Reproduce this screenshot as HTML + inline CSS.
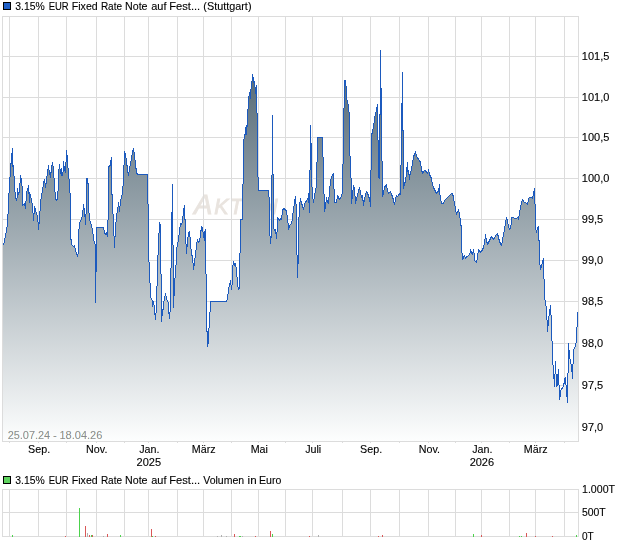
<!DOCTYPE html><html><head><meta charset="utf-8"><title>Chart</title>
<style>html,body{margin:0;padding:0;background:#fff;}svg{display:block;will-change:transform;}text{font-family:"Liberation Sans",sans-serif;font-size:11px;fill:#000;}text.t{filter:grayscale(1);stroke:#000;stroke-width:0.12px;}</style></head><body>
<svg width="620" height="546" viewBox="0 0 620 546">
<defs><linearGradient id="g" gradientUnits="userSpaceOnUse" x1="0" y1="16" x2="0" y2="441"><stop offset="0" stop-color="#3e5563"/><stop offset="1" stop-color="#fdfefe"/></linearGradient>
<clipPath id="cp"><rect x="3" y="17" width="575" height="424"/></clipPath></defs>
<rect width="620" height="546" fill="#fff"/>
<text x="194" y="213.5" style="font-size:27.5px;font-style:italic;fill:#e9e4df;stroke:#e9e4df;stroke-width:0.9px">A<tspan style="font-size:21.3px" dx="2.0">K</tspan><tspan style="font-size:21.3px" dx="1.2">T</tspan><tspan style="font-size:21.3px" dx="-0.2">I</tspan><tspan style="font-size:21.3px" dx="-0.2">E</tspan><tspan style="font-size:21.3px" dx="-0.2">N</tspan></text>
<path d="M9.5 17V443 M38.5 17V443 M66.5 17V443 M96.5 17V443 M124.5 17V443 M148.5 17V443 M177.5 17V443 M203.5 17V443 M231.5 17V443 M258.5 17V443 M285.5 17V443 M312.5 17V443 M342.5 17V443 M370.5 17V443 M399.5 17V443 M428.5 17V443 M455.5 17V443 M481.5 17V443 M509.5 17V443 M535.5 17V443 M564.5 17V443 M3 56.5H578 M3 97.5H578 M3 137.5H578 M3 178.5H578 M3 219.5H578 M3 260.5H578 M3 301.5H578 M3 343.5H578 M3 385.5H578 M3 427.5H578" stroke="#dcdcdc" stroke-width="1" fill="none" shape-rendering="crispEdges"/>
<g clip-path="url(#cp)" shape-rendering="crispEdges"><path d="M3 441 L3 244.52 L3.52 244.52 L4.52 240.52 L7.52 224.52 L8.52 202.52 L9.52 182.52 L10.52 170.52 L11.52 156.52 L12.52 148.52 L12.52 166.52 L13.52 165.52 L14.52 186.52 L14.52 187.52 L15.52 196.52 L16.52 200.52 L17.52 194.52 L17.52 188.52 L18.52 194.52 L19.52 190.52 L20.52 175.52 L21.52 184.52 L21.52 178.52 L22.52 194.52 L22.52 205.52 L23.52 204.52 L24.52 203.52 L25.52 208.52 L26.52 192.52 L27.52 189.52 L28.52 185.52 L29.52 202.52 L29.52 192.52 L30.52 196.52 L31.52 199.52 L32.52 206.52 L33.52 220.52 L34.52 206.52 L35.52 209.52 L36.52 214.52 L37.52 215.52 L38.52 229.52 L39.52 218.52 L40.52 202.52 L41.52 194.52 L42.52 191.52 L43.52 182.52 L44.52 179.52 L45.52 187.52 L46.52 179.52 L47.52 171.52 L48.52 165.52 L49.52 174.52 L50.52 172.52 L50.52 177.52 L51.52 167.52 L52.52 162.52 L53.52 170.52 L54.52 185.52 L55.52 198.52 L56.52 200.52 L57.52 198.52 L58.52 183.52 L58.52 173.52 L59.52 164.52 L60.52 173.52 L61.52 168.52 L61.52 175.52 L62.52 175.52 L63.52 168.52 L63.52 161.52 L64.52 170.52 L65.52 164.52 L65.52 172.52 L66.52 150.52 L67.52 160.52 L68.52 175.52 L68.52 175.52 L69.52 181.52 L70.52 204.52 L70.52 234.52 L71.52 244.52 L73.52 246.52 L74.52 245.52 L75.52 250.52 L77.52 256.52 L78.52 251.52 L78.52 234.52 L79.52 223.52 L81.52 218.52 L82.52 215.52 L83.52 204.52 L84.52 210.52 L84.52 209.52 L85.52 224.52 L86.52 202.52 L86.52 178.52 L87.52 178.52 L88.52 188.52 L88.52 206.52 L89.52 219.52 L90.52 222.52 L92.52 229.52 L93.52 238.52 L94.52 243.52 L95.52 244.52 L95.52 302.52 L95.52 272.52 L96.52 271.52 L96.52 227.52 L103.52 227.52 L104.52 232.52 L105.52 234.52 L106.52 232.52 L107.52 236.52 L108.52 202.52 L108.52 166.52 L110.52 165.52 L110.52 161.52 L111.52 157.52 L111.52 193.52 L112.52 195.52 L113.52 233.52 L114.52 238.52 L114.52 247.52 L115.52 226.52 L116.52 217.52 L117.52 208.52 L118.52 204.52 L118.52 202.52 L119.52 211.52 L120.52 200.52 L121.52 196.52 L122.52 193.52 L122.52 186.52 L123.52 185.52 L123.52 165.52 L124.52 164.52 L124.52 151.52 L125.52 154.52 L126.52 160.52 L127.52 170.52 L128.52 175.52 L129.52 168.52 L130.52 163.52 L131.52 157.52 L132.52 151.52 L133.52 148.52 L134.52 155.52 L135.52 164.52 L136.52 172.52 L137.52 174.52 L147.52 174.52 L147.52 203.52 L148.52 204.52 L148.52 261.52 L149.52 262.52 L149.52 282.52 L150.52 283.52 L150.52 297.52 L151.52 298.52 L152.52 301.52 L152.52 306.52 L153.52 301.52 L154.52 309.52 L155.52 319.52 L155.52 313.52 L156.52 312.52 L156.52 286.52 L157.52 285.52 L157.52 255.52 L158.52 254.52 L158.52 233.52 L159.52 232.52 L159.52 222.52 L160.52 226.52 L160.52 273.52 L161.52 274.52 L161.52 321.52 L162.52 309.52 L162.52 315.52 L163.52 303.52 L165.52 293.52 L166.52 298.52 L168.52 303.52 L168.52 309.52 L169.52 318.52 L170.52 305.52 L170.52 268.52 L171.52 267.52 L171.52 212.52 L172.52 211.52 L172.52 184.52 L172.52 244.52 L173.52 245.52 L173.52 307.52 L173.52 296.52 L174.52 295.52 L174.52 278.52 L175.52 277.52 L175.52 265.52 L176.52 264.52 L176.52 249.52 L177.52 244.52 L178.52 238.52 L178.52 239.52 L179.52 230.52 L180.52 223.52 L181.52 224.52 L182.52 220.52 L183.52 210.52 L184.52 205.52 L184.52 218.52 L185.52 220.52 L185.52 235.52 L186.52 253.52 L187.52 240.52 L188.52 233.52 L189.52 231.52 L190.52 243.52 L191.52 254.52 L192.52 256.52 L193.52 269.52 L194.52 261.52 L195.52 254.52 L196.52 244.52 L197.52 239.52 L198.52 242.52 L199.52 241.52 L200.52 234.52 L201.52 226.52 L202.52 228.52 L203.52 234.52 L204.52 240.52 L204.52 232.52 L205.52 229.52 L205.52 273.52 L206.52 274.52 L206.52 331.52 L207.52 331.52 L207.52 346.52 L208.52 340.52 L208.52 328.52 L209.52 327.52 L209.52 312.52 L210.52 311.52 L210.52 301.52 L226.52 301.52 L227.52 297.52 L228.52 289.52 L229.52 284.52 L230.52 280.52 L231.52 289.52 L232.52 279.52 L232.52 268.52 L233.52 261.52 L234.52 265.52 L235.52 263.52 L236.52 271.52 L237.52 283.52 L238.52 289.52 L239.52 287.52 L239.52 253.52 L240.52 252.52 L240.52 219.52 L242.52 219.52 L242.52 184.52 L243.52 183.52 L243.52 143.52 L244.52 134.52 L245.52 134.52 L245.52 128.52 L246.52 125.52 L246.52 134.52 L247.52 118.52 L248.52 98.52 L249.52 92.52 L250.52 98.52 L250.52 90.52 L251.52 87.52 L252.52 74.52 L253.52 82.52 L253.52 77.52 L254.52 83.52 L255.52 90.52 L255.52 93.52 L256.52 85.52 L256.52 112.52 L257.52 113.52 L257.52 164.52 L258.52 190.52 L268.52 190.52 L269.52 203.52 L269.52 229.52 L270.52 243.52 L271.52 231.52 L271.52 231.52 L271.52 175.52 L272.52 174.52 L272.52 115.52 L272.52 173.52 L273.52 174.52 L273.52 227.52 L274.52 230.52 L275.52 229.52 L276.52 238.52 L277.52 225.52 L277.52 217.52 L278.52 218.52 L279.52 220.52 L280.52 218.52 L281.52 219.52 L282.52 210.52 L283.52 208.52 L285.52 209.52 L286.52 211.52 L287.52 217.52 L288.52 229.52 L289.52 225.52 L291.52 223.52 L292.52 217.52 L293.52 208.52 L294.52 203.52 L294.52 200.52 L295.52 196.52 L296.52 211.52 L296.52 227.52 L296.52 249.52 L297.52 261.52 L297.52 277.52 L298.52 249.52 L298.52 227.52 L299.52 205.52 L300.52 198.52 L301.52 203.52 L302.52 205.52 L303.52 209.52 L304.52 203.52 L305.52 202.52 L306.52 200.52 L307.52 199.52 L308.52 195.52 L308.52 193.52 L309.52 212.52 L309.52 170.52 L310.52 169.52 L310.52 125.52 L310.52 143.52 L311.52 143.52 L311.52 179.52 L312.52 195.52 L313.52 202.52 L314.52 195.52 L315.52 189.52 L316.52 186.52 L316.52 165.52 L316.52 162.52 L317.52 161.52 L317.52 137.52 L322.52 137.52 L322.52 156.52 L323.52 157.52 L323.52 193.52 L324.52 194.52 L324.52 211.52 L325.52 205.52 L326.52 197.52 L327.52 202.52 L328.52 203.52 L329.52 190.52 L330.52 180.52 L331.52 176.52 L333.52 173.52 L333.52 188.52 L334.52 189.52 L334.52 202.52 L336.52 202.52 L337.52 195.52 L338.52 197.52 L339.52 199.52 L340.52 198.52 L341.52 194.52 L342.52 193.52 L342.52 164.52 L343.52 163.52 L343.52 108.52 L344.52 107.52 L344.52 80.52 L345.52 80.52 L346.52 91.52 L346.52 96.52 L347.52 102.52 L348.52 105.52 L348.52 111.52 L349.52 112.52 L349.52 155.52 L350.52 156.52 L351.52 199.52 L351.52 203.52 L352.52 193.52 L353.52 185.52 L354.52 188.52 L355.52 203.52 L356.52 198.52 L357.52 195.52 L358.52 190.52 L359.52 187.52 L360.52 192.52 L361.52 197.52 L362.52 195.52 L363.52 205.52 L364.52 198.52 L365.52 194.52 L366.52 191.52 L367.52 193.52 L368.52 195.52 L369.52 199.52 L370.52 203.52 L370.52 206.52 L370.52 170.52 L371.52 169.52 L371.52 134.52 L372.52 132.52 L373.52 124.52 L374.52 120.52 L374.52 117.52 L375.52 114.52 L376.52 108.52 L377.52 104.52 L377.52 139.52 L378.52 140.52 L378.52 176.52 L379.52 178.52 L379.52 114.52 L380.52 114.52 L380.52 50.52 L380.52 87.52 L381.52 88.52 L381.52 160.52 L382.52 161.52 L382.52 196.52 L383.52 192.52 L384.52 187.52 L385.52 185.52 L386.52 184.52 L387.52 190.52 L388.52 193.52 L389.52 192.52 L390.52 191.52 L391.52 194.52 L392.52 196.52 L393.52 200.52 L394.52 204.52 L395.52 198.52 L396.52 195.52 L397.52 196.52 L398.52 195.52 L399.52 193.52 L400.52 194.52 L400.52 165.52 L401.52 164.52 L401.52 103.52 L402.52 102.52 L402.52 72.52 L402.52 130.52 L403.52 130.52 L403.52 188.52 L404.52 183.52 L405.52 181.52 L406.52 171.52 L407.52 162.52 L407.52 171.52 L408.52 170.52 L409.52 179.52 L409.52 175.52 L410.52 173.52 L411.52 168.52 L412.52 162.52 L413.52 156.52 L414.52 154.52 L415.52 151.52 L416.52 156.52 L417.52 157.52 L418.52 159.52 L419.52 160.52 L420.52 162.52 L421.52 169.52 L422.52 173.52 L423.52 171.52 L424.52 170.52 L425.52 170.52 L426.52 172.52 L427.52 173.52 L428.52 169.52 L429.52 174.52 L430.52 176.52 L431.52 178.52 L432.52 184.52 L433.52 187.52 L434.52 189.52 L435.52 191.52 L436.52 193.52 L437.52 192.52 L438.52 190.52 L439.52 184.52 L439.52 192.52 L440.52 197.52 L441.52 203.52 L442.52 203.52 L443.52 203.52 L444.52 200.52 L445.52 199.52 L446.52 198.52 L447.52 197.52 L448.52 196.52 L449.52 195.52 L450.52 194.52 L451.52 193.52 L452.52 193.52 L453.52 197.52 L454.52 203.52 L455.52 208.52 L456.52 214.52 L457.52 211.52 L458.52 210.52 L458.52 209.52 L459.52 214.52 L460.52 220.52 L461.52 230.52 L461.52 246.52 L462.52 259.52 L463.52 257.52 L464.52 255.52 L465.52 258.52 L466.52 256.52 L467.52 256.52 L468.52 255.52 L469.52 254.52 L470.52 251.52 L470.52 249.52 L471.52 252.52 L472.52 254.52 L473.52 249.52 L474.52 255.52 L474.52 260.52 L475.52 261.52 L476.52 262.52 L477.52 256.52 L478.52 249.52 L479.52 250.52 L480.52 252.52 L481.52 251.52 L482.52 249.52 L483.52 247.52 L484.52 242.52 L485.52 234.52 L486.52 240.52 L487.52 244.52 L488.52 242.52 L489.52 240.52 L490.52 238.52 L491.52 236.52 L492.52 237.52 L493.52 239.52 L494.52 238.52 L495.52 235.52 L496.52 234.52 L497.52 233.52 L498.52 237.52 L499.52 241.52 L500.52 243.52 L501.52 245.52 L502.52 239.52 L503.52 234.52 L504.52 228.52 L505.52 222.52 L506.52 217.52 L507.52 220.52 L508.52 226.52 L509.52 229.52 L510.52 228.52 L511.52 220.52 L511.52 217.52 L513.52 217.52 L514.52 218.52 L516.52 218.52 L517.52 217.52 L518.52 216.52 L518.52 219.52 L519.52 212.52 L520.52 207.52 L521.52 202.52 L522.52 199.52 L523.52 201.52 L524.52 202.52 L525.52 202.52 L526.52 203.52 L527.52 204.52 L528.52 198.52 L529.52 197.52 L531.52 197.52 L532.52 198.52 L533.52 193.52 L534.52 188.52 L534.52 203.52 L535.52 204.52 L535.52 226.52 L536.52 232.52 L537.52 227.52 L538.52 226.52 L538.52 238.52 L539.52 242.52 L539.52 260.52 L540.52 269.52 L541.52 266.52 L542.52 261.52 L543.52 258.52 L543.52 278.52 L544.52 279.52 L544.52 299.52 L545.52 300.52 L545.52 305.52 L546.52 306.52 L546.52 319.52 L547.52 320.52 L547.52 331.52 L547.52 326.52 L548.52 325.52 L548.52 316.52 L549.52 315.52 L549.52 309.52 L550.52 308.52 L550.52 305.52 L550.52 314.52 L551.52 315.52 L551.52 340.52 L552.52 341.52 L552.52 364.52 L553.52 365.52 L553.52 378.52 L554.52 379.52 L554.52 386.52 L554.52 374.52 L555.52 373.52 L555.52 361.52 L555.52 373.52 L556.52 374.52 L556.52 386.52 L557.52 384.52 L557.52 374.52 L558.52 373.52 L558.52 369.52 L558.52 384.52 L559.52 385.52 L559.52 399.52 L560.52 393.52 L560.52 390.52 L561.52 389.52 L562.52 387.52 L563.52 386.52 L563.52 383.52 L564.52 383.52 L564.52 379.52 L565.52 377.52 L565.52 384.52 L566.52 385.52 L566.52 396.52 L567.52 397.52 L567.52 402.52 L567.52 373.52 L568.52 372.52 L568.52 343.52 L568.52 349.52 L569.52 350.52 L569.52 358.52 L570.52 359.52 L570.52 363.52 L571.52 364.52 L571.52 371.52 L572.52 372.52 L572.52 378.52 L572.52 364.52 L573.52 363.52 L573.52 349.52 L574.52 348.52 L574.52 347.52 L575.52 346.52 L575.52 343.52 L576.52 342.52 L576.52 327.52 L577.52 326.52 L577.52 312.52 L578 312.52 L578 441 Z" fill="url(#g)"/>
<path d="M3.52 244.52 L4.52 240.52 L7.52 224.52 L8.52 202.52 L9.52 182.52 L10.52 170.52 L11.52 156.52 L12.52 148.52 L12.52 166.52 L13.52 165.52 L14.52 186.52 L14.52 187.52 L15.52 196.52 L16.52 200.52 L17.52 194.52 L17.52 188.52 L18.52 194.52 L19.52 190.52 L20.52 175.52 L21.52 184.52 L21.52 178.52 L22.52 194.52 L22.52 205.52 L23.52 204.52 L24.52 203.52 L25.52 208.52 L26.52 192.52 L27.52 189.52 L28.52 185.52 L29.52 202.52 L29.52 192.52 L30.52 196.52 L31.52 199.52 L32.52 206.52 L33.52 220.52 L34.52 206.52 L35.52 209.52 L36.52 214.52 L37.52 215.52 L38.52 229.52 L39.52 218.52 L40.52 202.52 L41.52 194.52 L42.52 191.52 L43.52 182.52 L44.52 179.52 L45.52 187.52 L46.52 179.52 L47.52 171.52 L48.52 165.52 L49.52 174.52 L50.52 172.52 L50.52 177.52 L51.52 167.52 L52.52 162.52 L53.52 170.52 L54.52 185.52 L55.52 198.52 L56.52 200.52 L57.52 198.52 L58.52 183.52 L58.52 173.52 L59.52 164.52 L60.52 173.52 L61.52 168.52 L61.52 175.52 L62.52 175.52 L63.52 168.52 L63.52 161.52 L64.52 170.52 L65.52 164.52 L65.52 172.52 L66.52 150.52 L67.52 160.52 L68.52 175.52 L68.52 175.52 L69.52 181.52 L70.52 204.52 L70.52 234.52 L71.52 244.52 L73.52 246.52 L74.52 245.52 L75.52 250.52 L77.52 256.52 L78.52 251.52 L78.52 234.52 L79.52 223.52 L81.52 218.52 L82.52 215.52 L83.52 204.52 L84.52 210.52 L84.52 209.52 L85.52 224.52 L86.52 202.52 L86.52 178.52 L87.52 178.52 L88.52 188.52 L88.52 206.52 L89.52 219.52 L90.52 222.52 L92.52 229.52 L93.52 238.52 L94.52 243.52 L95.52 244.52 L95.52 302.52 L95.52 272.52 L96.52 271.52 L96.52 227.52 L103.52 227.52 L104.52 232.52 L105.52 234.52 L106.52 232.52 L107.52 236.52 L108.52 202.52 L108.52 166.52 L110.52 165.52 L110.52 161.52 L111.52 157.52 L111.52 193.52 L112.52 195.52 L113.52 233.52 L114.52 238.52 L114.52 247.52 L115.52 226.52 L116.52 217.52 L117.52 208.52 L118.52 204.52 L118.52 202.52 L119.52 211.52 L120.52 200.52 L121.52 196.52 L122.52 193.52 L122.52 186.52 L123.52 185.52 L123.52 165.52 L124.52 164.52 L124.52 151.52 L125.52 154.52 L126.52 160.52 L127.52 170.52 L128.52 175.52 L129.52 168.52 L130.52 163.52 L131.52 157.52 L132.52 151.52 L133.52 148.52 L134.52 155.52 L135.52 164.52 L136.52 172.52 L137.52 174.52 L147.52 174.52 L147.52 203.52 L148.52 204.52 L148.52 261.52 L149.52 262.52 L149.52 282.52 L150.52 283.52 L150.52 297.52 L151.52 298.52 L152.52 301.52 L152.52 306.52 L153.52 301.52 L154.52 309.52 L155.52 319.52 L155.52 313.52 L156.52 312.52 L156.52 286.52 L157.52 285.52 L157.52 255.52 L158.52 254.52 L158.52 233.52 L159.52 232.52 L159.52 222.52 L160.52 226.52 L160.52 273.52 L161.52 274.52 L161.52 321.52 L162.52 309.52 L162.52 315.52 L163.52 303.52 L165.52 293.52 L166.52 298.52 L168.52 303.52 L168.52 309.52 L169.52 318.52 L170.52 305.52 L170.52 268.52 L171.52 267.52 L171.52 212.52 L172.52 211.52 L172.52 184.52 L172.52 244.52 L173.52 245.52 L173.52 307.52 L173.52 296.52 L174.52 295.52 L174.52 278.52 L175.52 277.52 L175.52 265.52 L176.52 264.52 L176.52 249.52 L177.52 244.52 L178.52 238.52 L178.52 239.52 L179.52 230.52 L180.52 223.52 L181.52 224.52 L182.52 220.52 L183.52 210.52 L184.52 205.52 L184.52 218.52 L185.52 220.52 L185.52 235.52 L186.52 253.52 L187.52 240.52 L188.52 233.52 L189.52 231.52 L190.52 243.52 L191.52 254.52 L192.52 256.52 L193.52 269.52 L194.52 261.52 L195.52 254.52 L196.52 244.52 L197.52 239.52 L198.52 242.52 L199.52 241.52 L200.52 234.52 L201.52 226.52 L202.52 228.52 L203.52 234.52 L204.52 240.52 L204.52 232.52 L205.52 229.52 L205.52 273.52 L206.52 274.52 L206.52 331.52 L207.52 331.52 L207.52 346.52 L208.52 340.52 L208.52 328.52 L209.52 327.52 L209.52 312.52 L210.52 311.52 L210.52 301.52 L226.52 301.52 L227.52 297.52 L228.52 289.52 L229.52 284.52 L230.52 280.52 L231.52 289.52 L232.52 279.52 L232.52 268.52 L233.52 261.52 L234.52 265.52 L235.52 263.52 L236.52 271.52 L237.52 283.52 L238.52 289.52 L239.52 287.52 L239.52 253.52 L240.52 252.52 L240.52 219.52 L242.52 219.52 L242.52 184.52 L243.52 183.52 L243.52 143.52 L244.52 134.52 L245.52 134.52 L245.52 128.52 L246.52 125.52 L246.52 134.52 L247.52 118.52 L248.52 98.52 L249.52 92.52 L250.52 98.52 L250.52 90.52 L251.52 87.52 L252.52 74.52 L253.52 82.52 L253.52 77.52 L254.52 83.52 L255.52 90.52 L255.52 93.52 L256.52 85.52 L256.52 112.52 L257.52 113.52 L257.52 164.52 L258.52 190.52 L268.52 190.52 L269.52 203.52 L269.52 229.52 L270.52 243.52 L271.52 231.52 L271.52 231.52 L271.52 175.52 L272.52 174.52 L272.52 115.52 L272.52 173.52 L273.52 174.52 L273.52 227.52 L274.52 230.52 L275.52 229.52 L276.52 238.52 L277.52 225.52 L277.52 217.52 L278.52 218.52 L279.52 220.52 L280.52 218.52 L281.52 219.52 L282.52 210.52 L283.52 208.52 L285.52 209.52 L286.52 211.52 L287.52 217.52 L288.52 229.52 L289.52 225.52 L291.52 223.52 L292.52 217.52 L293.52 208.52 L294.52 203.52 L294.52 200.52 L295.52 196.52 L296.52 211.52 L296.52 227.52 L296.52 249.52 L297.52 261.52 L297.52 277.52 L298.52 249.52 L298.52 227.52 L299.52 205.52 L300.52 198.52 L301.52 203.52 L302.52 205.52 L303.52 209.52 L304.52 203.52 L305.52 202.52 L306.52 200.52 L307.52 199.52 L308.52 195.52 L308.52 193.52 L309.52 212.52 L309.52 170.52 L310.52 169.52 L310.52 125.52 L310.52 143.52 L311.52 143.52 L311.52 179.52 L312.52 195.52 L313.52 202.52 L314.52 195.52 L315.52 189.52 L316.52 186.52 L316.52 165.52 L316.52 162.52 L317.52 161.52 L317.52 137.52 L322.52 137.52 L322.52 156.52 L323.52 157.52 L323.52 193.52 L324.52 194.52 L324.52 211.52 L325.52 205.52 L326.52 197.52 L327.52 202.52 L328.52 203.52 L329.52 190.52 L330.52 180.52 L331.52 176.52 L333.52 173.52 L333.52 188.52 L334.52 189.52 L334.52 202.52 L336.52 202.52 L337.52 195.52 L338.52 197.52 L339.52 199.52 L340.52 198.52 L341.52 194.52 L342.52 193.52 L342.52 164.52 L343.52 163.52 L343.52 108.52 L344.52 107.52 L344.52 80.52 L345.52 80.52 L346.52 91.52 L346.52 96.52 L347.52 102.52 L348.52 105.52 L348.52 111.52 L349.52 112.52 L349.52 155.52 L350.52 156.52 L351.52 199.52 L351.52 203.52 L352.52 193.52 L353.52 185.52 L354.52 188.52 L355.52 203.52 L356.52 198.52 L357.52 195.52 L358.52 190.52 L359.52 187.52 L360.52 192.52 L361.52 197.52 L362.52 195.52 L363.52 205.52 L364.52 198.52 L365.52 194.52 L366.52 191.52 L367.52 193.52 L368.52 195.52 L369.52 199.52 L370.52 203.52 L370.52 206.52 L370.52 170.52 L371.52 169.52 L371.52 134.52 L372.52 132.52 L373.52 124.52 L374.52 120.52 L374.52 117.52 L375.52 114.52 L376.52 108.52 L377.52 104.52 L377.52 139.52 L378.52 140.52 L378.52 176.52 L379.52 178.52 L379.52 114.52 L380.52 114.52 L380.52 50.52 L380.52 87.52 L381.52 88.52 L381.52 160.52 L382.52 161.52 L382.52 196.52 L383.52 192.52 L384.52 187.52 L385.52 185.52 L386.52 184.52 L387.52 190.52 L388.52 193.52 L389.52 192.52 L390.52 191.52 L391.52 194.52 L392.52 196.52 L393.52 200.52 L394.52 204.52 L395.52 198.52 L396.52 195.52 L397.52 196.52 L398.52 195.52 L399.52 193.52 L400.52 194.52 L400.52 165.52 L401.52 164.52 L401.52 103.52 L402.52 102.52 L402.52 72.52 L402.52 130.52 L403.52 130.52 L403.52 188.52 L404.52 183.52 L405.52 181.52 L406.52 171.52 L407.52 162.52 L407.52 171.52 L408.52 170.52 L409.52 179.52 L409.52 175.52 L410.52 173.52 L411.52 168.52 L412.52 162.52 L413.52 156.52 L414.52 154.52 L415.52 151.52 L416.52 156.52 L417.52 157.52 L418.52 159.52 L419.52 160.52 L420.52 162.52 L421.52 169.52 L422.52 173.52 L423.52 171.52 L424.52 170.52 L425.52 170.52 L426.52 172.52 L427.52 173.52 L428.52 169.52 L429.52 174.52 L430.52 176.52 L431.52 178.52 L432.52 184.52 L433.52 187.52 L434.52 189.52 L435.52 191.52 L436.52 193.52 L437.52 192.52 L438.52 190.52 L439.52 184.52 L439.52 192.52 L440.52 197.52 L441.52 203.52 L442.52 203.52 L443.52 203.52 L444.52 200.52 L445.52 199.52 L446.52 198.52 L447.52 197.52 L448.52 196.52 L449.52 195.52 L450.52 194.52 L451.52 193.52 L452.52 193.52 L453.52 197.52 L454.52 203.52 L455.52 208.52 L456.52 214.52 L457.52 211.52 L458.52 210.52 L458.52 209.52 L459.52 214.52 L460.52 220.52 L461.52 230.52 L461.52 246.52 L462.52 259.52 L463.52 257.52 L464.52 255.52 L465.52 258.52 L466.52 256.52 L467.52 256.52 L468.52 255.52 L469.52 254.52 L470.52 251.52 L470.52 249.52 L471.52 252.52 L472.52 254.52 L473.52 249.52 L474.52 255.52 L474.52 260.52 L475.52 261.52 L476.52 262.52 L477.52 256.52 L478.52 249.52 L479.52 250.52 L480.52 252.52 L481.52 251.52 L482.52 249.52 L483.52 247.52 L484.52 242.52 L485.52 234.52 L486.52 240.52 L487.52 244.52 L488.52 242.52 L489.52 240.52 L490.52 238.52 L491.52 236.52 L492.52 237.52 L493.52 239.52 L494.52 238.52 L495.52 235.52 L496.52 234.52 L497.52 233.52 L498.52 237.52 L499.52 241.52 L500.52 243.52 L501.52 245.52 L502.52 239.52 L503.52 234.52 L504.52 228.52 L505.52 222.52 L506.52 217.52 L507.52 220.52 L508.52 226.52 L509.52 229.52 L510.52 228.52 L511.52 220.52 L511.52 217.52 L513.52 217.52 L514.52 218.52 L516.52 218.52 L517.52 217.52 L518.52 216.52 L518.52 219.52 L519.52 212.52 L520.52 207.52 L521.52 202.52 L522.52 199.52 L523.52 201.52 L524.52 202.52 L525.52 202.52 L526.52 203.52 L527.52 204.52 L528.52 198.52 L529.52 197.52 L531.52 197.52 L532.52 198.52 L533.52 193.52 L534.52 188.52 L534.52 203.52 L535.52 204.52 L535.52 226.52 L536.52 232.52 L537.52 227.52 L538.52 226.52 L538.52 238.52 L539.52 242.52 L539.52 260.52 L540.52 269.52 L541.52 266.52 L542.52 261.52 L543.52 258.52 L543.52 278.52 L544.52 279.52 L544.52 299.52 L545.52 300.52 L545.52 305.52 L546.52 306.52 L546.52 319.52 L547.52 320.52 L547.52 331.52 L547.52 326.52 L548.52 325.52 L548.52 316.52 L549.52 315.52 L549.52 309.52 L550.52 308.52 L550.52 305.52 L550.52 314.52 L551.52 315.52 L551.52 340.52 L552.52 341.52 L552.52 364.52 L553.52 365.52 L553.52 378.52 L554.52 379.52 L554.52 386.52 L554.52 374.52 L555.52 373.52 L555.52 361.52 L555.52 373.52 L556.52 374.52 L556.52 386.52 L557.52 384.52 L557.52 374.52 L558.52 373.52 L558.52 369.52 L558.52 384.52 L559.52 385.52 L559.52 399.52 L560.52 393.52 L560.52 390.52 L561.52 389.52 L562.52 387.52 L563.52 386.52 L563.52 383.52 L564.52 383.52 L564.52 379.52 L565.52 377.52 L565.52 384.52 L566.52 385.52 L566.52 396.52 L567.52 397.52 L567.52 402.52 L567.52 373.52 L568.52 372.52 L568.52 343.52 L568.52 349.52 L569.52 350.52 L569.52 358.52 L570.52 359.52 L570.52 363.52 L571.52 364.52 L571.52 371.52 L572.52 372.52 L572.52 378.52 L572.52 364.52 L573.52 363.52 L573.52 349.52 L574.52 348.52 L574.52 347.52 L575.52 346.52 L575.52 343.52 L576.52 342.52 L576.52 327.52 L577.52 326.52 L577.52 312.52" fill="none" stroke="#1c5abe" stroke-width="1" stroke-linejoin="round" stroke-linecap="round"/></g>
<path d="M2.5 16.5H578.5V441.5H2.5Z" fill="none" stroke="#dcdcdc" stroke-width="1" shape-rendering="crispEdges"/>
<rect x="3.5" y="2.5" width="7" height="7" fill="#2060c8" stroke="#000" stroke-width="1"/>
<text class="t" transform="translate(15.30 10) scale(0.9447 1)">3.15%</text>
<text class="t" transform="translate(48.72 10) scale(0.8619 1)">EUR</text>
<text class="t" transform="translate(71.83 10) scale(0.9610 1)">Fixed</text>
<text class="t" transform="translate(100.88 10) scale(0.9110 1)">Rate</text>
<text class="t" transform="translate(125.02 10) scale(0.9705 1)">Note</text>
<text class="t" transform="translate(151.23 10) scale(0.9973 1)">auf</text>
<text class="t" transform="translate(169.29 10) scale(1.0120 1)">Fest...</text>
<text class="t" transform="translate(203.33 10) scale(0.9865 1)">(Stuttgart)</text>
<text class="t" transform="translate(581.80 60)">101,5</text>
<text class="t" transform="translate(581.80 101)">101,0</text>
<text class="t" transform="translate(581.80 141)">100,5</text>
<text class="t" transform="translate(581.80 182)">100,0</text>
<text class="t" transform="translate(581.80 223)">99,5</text>
<text class="t" transform="translate(581.80 264)">99,0</text>
<text class="t" transform="translate(581.80 305)">98,5</text>
<text class="t" transform="translate(581.80 347)">98,0</text>
<text class="t" transform="translate(581.80 389)">97,5</text>
<text class="t" transform="translate(581.80 431)">97,0</text>
<text transform="translate(7.97 439) scale(0.9894 1)" style="fill:rgb(140,255,255);mix-blend-mode:multiply">25.07.24</text>
<text transform="translate(53.21 439) scale(1.0426 1)" style="fill:rgb(140,255,255);mix-blend-mode:multiply">-</text>
<text transform="translate(59.68 439) scale(1.0025 1)" style="fill:rgb(140,255,255);mix-blend-mode:multiply">18.04.26</text>
<text transform="translate(7.75 439) scale(0.9894 1)" style="fill:rgb(255,140,255);mix-blend-mode:multiply">25.07.24</text>
<text transform="translate(52.99 439) scale(1.0426 1)" style="fill:rgb(255,140,255);mix-blend-mode:multiply">-</text>
<text transform="translate(59.46 439) scale(1.0025 1)" style="fill:rgb(255,140,255);mix-blend-mode:multiply">18.04.26</text>
<text transform="translate(7.53 439) scale(0.9894 1)" style="fill:rgb(255,255,140);mix-blend-mode:multiply">25.07.24</text>
<text transform="translate(52.77 439) scale(1.0426 1)" style="fill:rgb(255,255,140);mix-blend-mode:multiply">-</text>
<text transform="translate(59.24 439) scale(1.0025 1)" style="fill:rgb(255,255,140);mix-blend-mode:multiply">18.04.26</text>
<text class="t" transform="translate(28.11 453) scale(0.9750 1)">Sep.</text>
<text class="t" transform="translate(86.12 453) scale(0.9750 1)">Nov.</text>
<text class="t" transform="translate(139.17 453) scale(0.9750 1)">Jan.</text>
<text class="t" transform="translate(136.62 466)">2025</text>
<text class="t" transform="translate(191.81 453) scale(0.9750 1)">März</text>
<text class="t" transform="translate(250.68 453) scale(0.9750 1)">Mai</text>
<text class="t" transform="translate(305.13 453) scale(0.9750 1)">Juli</text>
<text class="t" transform="translate(360.11 453) scale(0.9750 1)">Sep.</text>
<text class="t" transform="translate(418.82 453) scale(0.9750 1)">Nov.</text>
<text class="t" transform="translate(472.17 453) scale(0.9750 1)">Jan.</text>
<text class="t" transform="translate(469.63 466)">2026</text>
<text class="t" transform="translate(523.81 453) scale(0.9750 1)">März</text>
<rect x="3.5" y="476.5" width="7" height="7" fill="#5fd35f" stroke="#000" stroke-width="1"/>
<text class="t" transform="translate(15.30 484) scale(0.9447 1)">3.15%</text>
<text class="t" transform="translate(48.72 484) scale(0.8619 1)">EUR</text>
<text class="t" transform="translate(71.83 484) scale(0.9610 1)">Fixed</text>
<text class="t" transform="translate(100.88 484) scale(0.9110 1)">Rate</text>
<text class="t" transform="translate(125.02 484) scale(0.9705 1)">Note</text>
<text class="t" transform="translate(151.23 484) scale(0.9973 1)">auf</text>
<text class="t" transform="translate(169.29 484) scale(1.0120 1)">Fest...</text>
<text class="t" transform="translate(203.25 484) scale(0.9566 1)">Volumen</text>
<text class="t" transform="translate(247.62 484) scale(1.0547 1)">in</text>
<text class="t" transform="translate(259.03 484) scale(0.9602 1)">Euro</text>
<path d="M9.5 490V536 M38.5 490V536 M66.5 490V536 M96.5 490V536 M124.5 490V536 M148.5 490V536 M177.5 490V536 M203.5 490V536 M231.5 490V536 M258.5 490V536 M285.5 490V536 M312.5 490V536 M342.5 490V536 M370.5 490V536 M399.5 490V536 M428.5 490V536 M455.5 490V536 M481.5 490V536 M509.5 490V536 M535.5 490V536 M564.5 490V536 M3 512.5H578" stroke="#dcdcdc" stroke-width="1" fill="none" shape-rendering="crispEdges"/>
<path d="M2.5 489.5H578.5V536.5H2.5Z" fill="none" stroke="#dcdcdc" stroke-width="1" shape-rendering="crispEdges"/>
<rect x="12" y="535" width="1" height="2" fill="#4cd24c" shape-rendering="crispEdges"/>
<rect x="65" y="536" width="1" height="1" fill="#d95757" shape-rendering="crispEdges"/>
<rect x="79" y="508" width="1" height="29" fill="#4cd24c" shape-rendering="crispEdges"/>
<rect x="85" y="526" width="1" height="11" fill="#d95757" shape-rendering="crispEdges"/>
<rect x="87" y="533" width="1" height="4" fill="#b0b0b0" shape-rendering="crispEdges"/>
<rect x="89" y="535" width="1" height="2" fill="#d95757" shape-rendering="crispEdges"/>
<rect x="91" y="535" width="1" height="2" fill="#4cd24c" shape-rendering="crispEdges"/>
<rect x="92" y="535" width="1" height="2" fill="#d95757" shape-rendering="crispEdges"/>
<rect x="103" y="536" width="1" height="1" fill="#b0b0b0" shape-rendering="crispEdges"/>
<rect x="107" y="534" width="1" height="3" fill="#d95757" shape-rendering="crispEdges"/>
<rect x="120" y="535" width="1" height="2" fill="#4cd24c" shape-rendering="crispEdges"/>
<rect x="151" y="529" width="1" height="8" fill="#d95757" shape-rendering="crispEdges"/>
<rect x="152" y="536" width="1" height="1" fill="#4cd24c" shape-rendering="crispEdges"/>
<rect x="155" y="536" width="1" height="1" fill="#d95757" shape-rendering="crispEdges"/>
<rect x="217" y="536" width="1" height="1" fill="#b0b0b0" shape-rendering="crispEdges"/>
<rect x="221" y="535" width="1" height="2" fill="#b0b0b0" shape-rendering="crispEdges"/>
<rect x="226" y="536" width="1" height="1" fill="#b0b0b0" shape-rendering="crispEdges"/>
<rect x="234" y="534" width="1" height="3" fill="#d95757" shape-rendering="crispEdges"/>
<rect x="239" y="536" width="1" height="1" fill="#4cd24c" shape-rendering="crispEdges"/>
<rect x="240" y="536" width="1" height="1" fill="#4cd24c" shape-rendering="crispEdges"/>
<rect x="242" y="536" width="1" height="1" fill="#b0b0b0" shape-rendering="crispEdges"/>
<rect x="255" y="536" width="1" height="1" fill="#d95757" shape-rendering="crispEdges"/>
<rect x="270" y="531" width="1" height="6" fill="#d95757" shape-rendering="crispEdges"/>
<rect x="272" y="534" width="1" height="3" fill="#4cd24c" shape-rendering="crispEdges"/>
<rect x="309" y="536" width="1" height="1" fill="#d95757" shape-rendering="crispEdges"/>
<rect x="318" y="535" width="1" height="2" fill="#b0b0b0" shape-rendering="crispEdges"/>
<rect x="378" y="536" width="1" height="1" fill="#d95757" shape-rendering="crispEdges"/>
<rect x="382" y="535" width="1" height="2" fill="#d95757" shape-rendering="crispEdges"/>
<rect x="473" y="534" width="1" height="3" fill="#4cd24c" shape-rendering="crispEdges"/>
<rect x="481" y="535" width="1" height="2" fill="#d95757" shape-rendering="crispEdges"/>
<rect x="519" y="536" width="1" height="1" fill="#4cd24c" shape-rendering="crispEdges"/>
<rect x="521" y="536" width="1" height="1" fill="#4cd24c" shape-rendering="crispEdges"/>
<rect x="526" y="533" width="1" height="4" fill="#d95757" shape-rendering="crispEdges"/>
<rect x="535" y="536" width="1" height="1" fill="#d95757" shape-rendering="crispEdges"/>
<rect x="552" y="536" width="1" height="1" fill="#d95757" shape-rendering="crispEdges"/>
<rect x="576" y="535" width="1" height="2" fill="#4cd24c" shape-rendering="crispEdges"/>
<text class="t" transform="translate(581.99 493) scale(0.9651 1)">1.000T</text>
<text class="t" transform="translate(581.98 516) scale(0.9475 1)">500T</text>
<text class="t" transform="translate(582.01 540) scale(0.9132 1)">0T</text>
</svg></body></html>
